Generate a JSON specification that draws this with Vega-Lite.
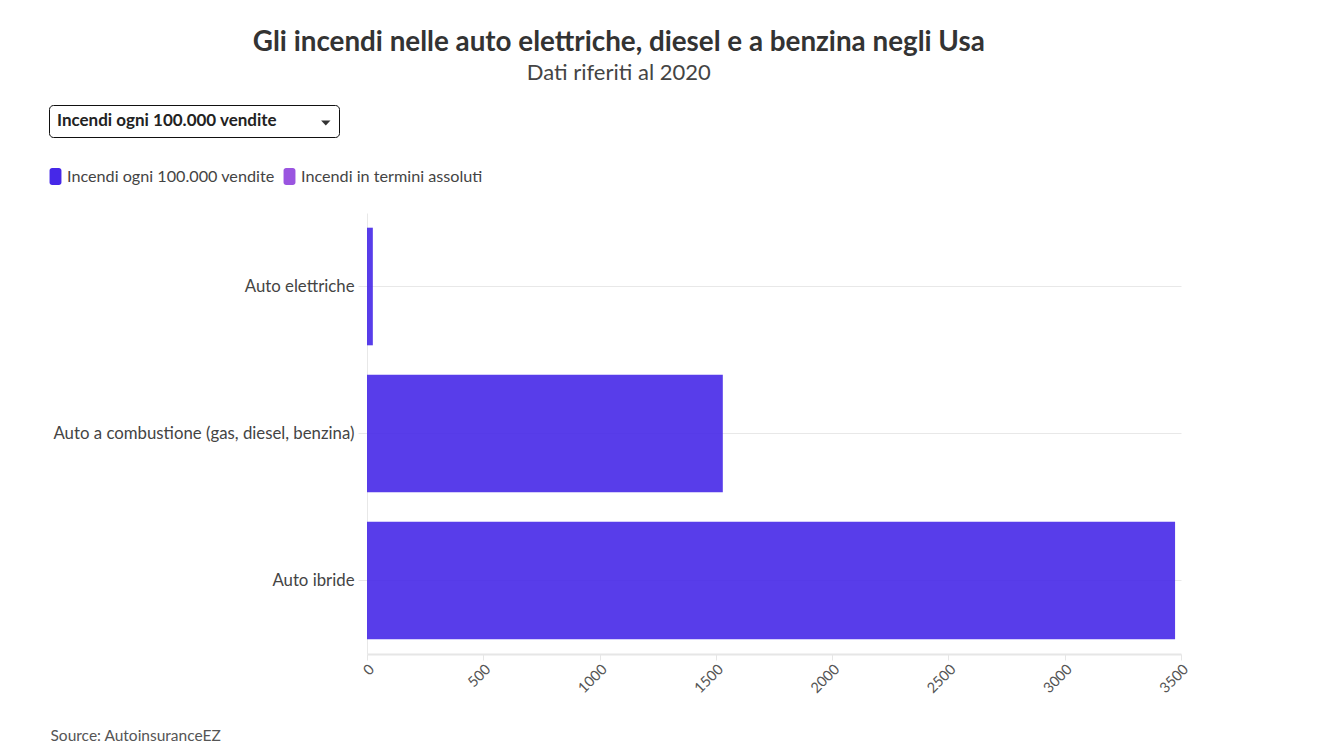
{
  "$schema": "https://vega.github.io/schema/vega-lite/v6.json",
  "background": "white",
  "padding": {"left": 47, "top": 28, "right": 10, "bottom": 0},
  "width": 814,
  "height": 441,
  "title": {
    "text": "Gli incendi nelle auto elettriche, diesel e a benzina negli Usa",
    "subtitle": "Dati riferiti al 2020",
    "anchor": "middle",
    "frame": "bounds",
    "font": "Lato",
    "fontSize": 27.8,
    "fontWeight": "bold",
    "color": "#333333",
    "subtitleFont": "Lato",
    "subtitleFontSize": 22,
    "subtitleColor": "#444444",
    "subtitlePadding": 6,
    "offset": 21
  },
  "data": {
    "values": [
      {"tipo": "Auto elettriche", "serie": "Incendi ogni 100.000 vendite", "menu": "Incendi ogni 100.000 vendite", "valore": 25.1},
      {"tipo": "Auto a combustione (gas, diesel, benzina)", "serie": "Incendi ogni 100.000 vendite", "menu": "Incendi ogni 100.000 vendite", "valore": 1529.9},
      {"tipo": "Auto ibride", "serie": "Incendi ogni 100.000 vendite", "menu": "Incendi ogni 100.000 vendite", "valore": 3474.5}
    ]
  },
  "encoding": {
    "y": {
      "field": "tipo",
      "type": "nominal",
      "sort": null,
      "scale": {"paddingInner": 0.2, "paddingOuter": 0.1},
      "axis": {
        "title": null,
        "grid": true,
        "gridColor": "#e8e8e8",
        "domainColor": "#e8e8e8",
        "tickColor": "#e8e8e8",
        "tickSize": 9,
        "labelPadding": 4,
        "labelFont": "Lato",
        "labelFontSize": 16.8,
        "labelColor": "#444444",
        "labelLimit": 400
      }
    },
    "x": {
      "field": "valore",
      "type": "quantitative",
      "scale": {"domain": [0, 3500], "nice": false},
      "axis": {
        "title": "Source: AutoinsuranceEZ",
        "titleX": -317,
        "titleY": 86,
        "titleAlign": "left",
        "titleAnchor": "start",
        "titleBaseline": "alphabetic",
        "titleFont": "Lato",
        "titleFontSize": 15.5,
        "titleFontWeight": "normal",
        "titleColor": "#555555",
        "grid": false,
        "values": [0, 500, 1000, 1500, 2000, 2500, 3000, 3500],
        "format": "d",
        "domainColor": "#e6e6e6",
        "domainWidth": 2,
        "tickColor": "#e6e6e6",
        "tickSize": 6,
        "labelAngle": -45,
        "labelFont": "Lato",
        "labelFontSize": 14.5,
        "labelColor": "#555555"
      }
    }
  },
  "layer": [
    {
      "mark": {"type": "bar", "opacity": 0.9},
      "encoding": {
        "color": {
          "field": "serie",
          "type": "nominal",
          "scale": {
            "domain": ["Incendi ogni 100.000 vendite", "Incendi in termini assoluti"],
            "range": ["#4628e8", "#9a55e0"]
          },
          "legend": {
            "title": null,
            "orient": "none",
            "direction": "horizontal",
            "legendX": -320,
            "legendY": -45,
            "symbolType": "M-0.7,-1H0.4A0.3,0.3,0,0,1,0.7,-0.7V0.7A0.3,0.3,0,0,1,0.4,1H-0.4A0.3,0.3,0,0,1,-0.7,0.7V-0.7A0.3,0.3,0,0,1,-0.4,-1Z",
            "symbolSize": 289,
            "symbolOpacity": 1,
            "symbolStrokeWidth": 0,
            "labelFont": "Lato",
            "labelFontSize": 16.2,
            "labelColor": "#444444",
            "labelOffset": 3,
            "labelLimit": 400,
            "columnPadding": 6
          }
        }
      }
    },
    {
      "mark": {"type": "point", "opacity": 0, "filled": true, "color": "#333333"},
      "encoding": {
        "shape": {
          "field": "menu",
          "type": "nominal",
          "scale": {"range": ["M0.11,-0.26L1.05,-0.26L0.58,0.26Z"]},
          "legend": {
            "title": "Incendi ogni 100.000 vendite",
            "titleOrient": "left",
            "titleFont": "Lato",
            "titleFontSize": 17,
            "titleFontWeight": "bold",
            "titleColor": "#222222",
            "titleLimit": 400,
            "titleBaseline": "middle",
            "titlePadding": 32,
            "orient": "none",
            "legendX": -318,
            "legendY": -108,
            "padding": 8,
            "labelExpr": "''",
            "labelOffset": 0,
            "symbolSize": 400,
            "symbolFillColor": "#333333",
            "symbolStrokeColor": "#333333",
            "symbolStrokeWidth": 0,
            "symbolOpacity": 1,
            "cornerRadius": 4,
            "strokeColor": "#111111",
            "fillColor": "white",
            "encode": {
              "legend": {"update": {"strokeWidth": {"value": 2}}},
              "symbols": {"update": {"fill": {"value": "#333333"}, "opacity": {"value": 1}}}
            }
          }
        }
      }
    }
  ],
  "config": {
    "view": {"stroke": null},
    "font": "Lato"
  }
}
